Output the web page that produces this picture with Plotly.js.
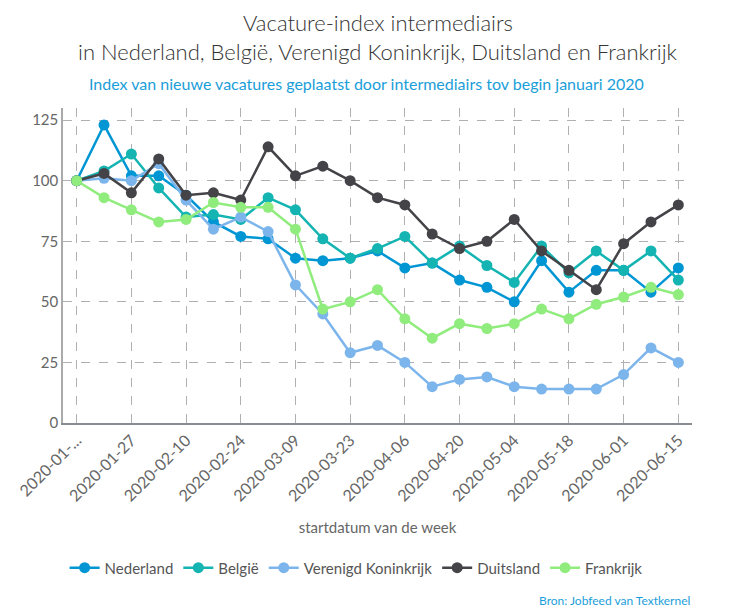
<!DOCTYPE html>
<html>
<head>
<meta charset="utf-8">
<script src="https://cdn.plot.ly/plotly-3.0.1.min.js"></script>
<style>html,body{margin:0;padding:0;background:#fff;}#chart{width:739px;height:614px;}</style>
</head>
<body>
<div id="chart"></div>
<script>
const weeks = ["2020-01-13","2020-01-20","2020-01-27","2020-02-03","2020-02-10","2020-02-17","2020-02-24","2020-03-02","2020-03-09","2020-03-16","2020-03-23","2020-03-30","2020-04-06","2020-04-13","2020-04-20","2020-04-27","2020-05-04","2020-05-11","2020-05-18","2020-05-25","2020-06-01","2020-06-08","2020-06-15"];
const tickLabels = ["2020-01-...","2020-01-27","2020-02-10","2020-02-24","2020-03-09","2020-03-23","2020-04-06","2020-04-20","2020-05-04","2020-05-18","2020-06-01","2020-06-15"];
const nederland = [100,123,102,102,94,83,77,76,68,67,68,71,64,66,59,56,50,67,54,63,63,54,64];
const belgie = [100,104,111,97,85,86,84,93,88,76,68,72,77,66,73,65,58,73,62,71,63,71,59];
const verenigdKoninkrijk = [100,101,100,107,92,80,85,79,57,45,29,32,25,15,18,19,15,14,14,14,20,31,25];
const duitsland = [100,103,95,109,94,95,92,114,102,106,100,93,90,78,72,75,84,71,63,55,74,83,90];
const frankrijk = [100,93,88,83,84,91,89,89,80,47,50,55,43,35,41,39,41,47,43,49,52,56,53];
const seriesNames = ["Nederland","België","Verenigd Koninkrijk","Duitsland","Frankrijk"];
const seriesColors = ["#0096d4","#14b4b2","#7cb5ec","#434348","#90ed7d"];
const seriesValues = [nederland, belgie, verenigdKoninkrijk, duitsland, frankrijk];

const tickVals = weeks.filter((w,i)=> i % 2 === 0);

const traces = seriesValues.map((vals, k) => ({
  type: 'scatter',
  mode: 'lines+markers',
  name: seriesNames[k],
  x: weeks,
  y: vals,
  line: {color: seriesColors[k], width: 2.5},
  marker: {color: seriesColors[k], size: 11}
}));

const layout = {
  width: 739, height: 614,
  margin: {l: 63, r: 47, t: 108, b: 191},
  paper_bgcolor: '#fff', plot_bgcolor: '#fff',
  font: {family: 'Lato, sans-serif', color: '#555'},
  xaxis: {
    type: 'category',
    range: [-0.5, 22.5],
    tickvals: tickVals,
    ticktext: tickLabels,
    tickangle: -45,
    tickfont: {size: 16, color: '#666'},
    showgrid: true, gridcolor: '#b0b0b0', griddash: 'dash', gridwidth: 1,
    showline: true, linecolor: '#888d94', linewidth: 1.5,
    ticks: '', zeroline: false,
    title: {text: 'startdatum van de week', font: {size: 15, color: '#666'}, standoff: 19}
  },
  yaxis: {
    range: [0, 130],
    tickvals: [0,25,50,75,100,125],
    tickfont: {size: 15, color: '#666'},
    showgrid: true, gridcolor: '#b0b0b0', griddash: 'dash', gridwidth: 1,
    showline: true, linecolor: '#aaaaaa', linewidth: 1.5,
    zeroline: false, ticks: '', ticklen: 6
  },
  legend: {
    orientation: 'h', x: 0.466, xanchor: 'center', y: -0.46, yanchor: 'middle',
    font: {size: 15, color: '#555'}, itemwidth: 30
  },
  showlegend: true,
  annotations: [
    {text: 'Vacature-index intermediairs',
     xref: 'paper', yref: 'paper', x: 0.5, y: 1.273, xanchor: 'center', yanchor: 'middle',
     showarrow: false, font: {size: 22, color: '#333333', weight: 300}},
    {text: 'in Nederland, België, Verenigd Koninkrijk, Duitsland en Frankrijk',
     xref: 'paper', yref: 'paper', x: 0.5, y: 1.178, xanchor: 'center', yanchor: 'middle',
     showarrow: false, font: {size: 22, color: '#333333', weight: 300}},
    {text: 'Index van nieuwe vacatures geplaatst door intermediairs tov begin januari 2020',
     xref: 'paper', yref: 'paper', x: 0.483, y: 1.079, xanchor: 'center', yanchor: 'middle',
     showarrow: false, font: {size: 16, color: '#1a9ed9'}},
    {text: 'Bron: Jobfeed van Textkernel',
     xref: 'paper', yref: 'paper', x: 1.0, y: -0.565, xanchor: 'right', yanchor: 'middle',
     showarrow: false, font: {size: 12, color: '#1a9ed9'}}
  ]
};

Plotly.newPlot('chart', traces, layout, {displayModeBar: false, responsive: false});
</script>
</body>
</html>
